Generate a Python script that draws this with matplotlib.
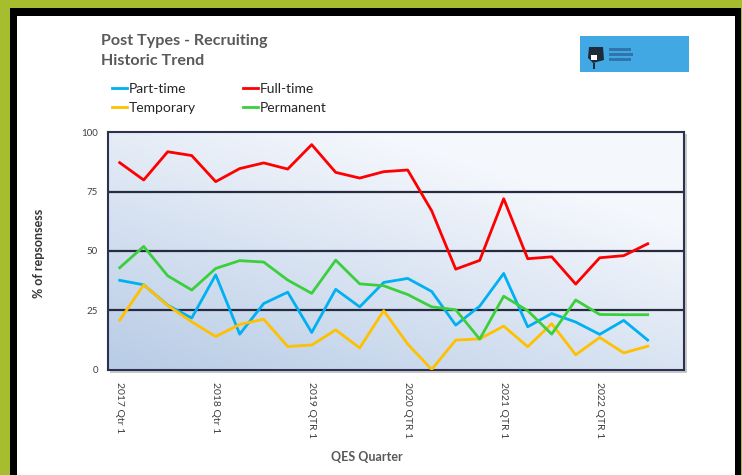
import numpy as np
import matplotlib.pyplot as plt
from matplotlib.patches import Rectangle, Polygon

plt.rcParams['font.family'] = ['Lato', 'DejaVu Sans']

# quarters 2017 Q1 .. 2022 Q4 (last one has no data yet)
quarters = [f'{y} Q{q}' for y in range(2017, 2023) for q in range(1, 5)]
tick_pos = [0, 4, 8, 12, 16, 20]
tick_labels = ['2017 Qtr 1', '2018 Qtr 1', '2019 QTR 1', '2020 QTR 1', '2021 QTR 1', '2022 QTR 1']

part_time = [37.6, 35.7, 27.1, 21.7, 39.9, 14.9, 27.8, 32.6, 15.6, 33.8, 26.4, 36.7,
             38.4, 32.9, 18.7, 26.7, 40.5, 18.0, 23.6, 20.0, 14.8, 20.7, 12.4]
full_time = [87.2, 79.9, 91.8, 90.2, 79.2, 84.7, 87.1, 84.5, 94.8, 83.1, 80.7, 83.4,
             84.1, 66.9, 42.3, 46.0, 72.0, 46.7, 47.5, 36.0, 47.1, 48.0, 53.0]
temporary = [20.8, 35.7, 27.0, 20.1, 13.9, 19.0, 21.2, 9.7, 10.3, 16.7, 9.1, 24.8,
             10.7, 0.0, 12.4, 12.9, 18.3, 9.6, 19.3, 6.2, 13.5, 7.0, 9.8]
permanent = [42.9, 51.9, 39.5, 33.5, 42.6, 45.9, 45.3, 37.7, 32.1, 46.1, 36.1, 35.3,
             31.6, 26.4, 25.2, 12.8, 30.9, 24.8, 14.9, 29.3, 23.2, 23.1, 23.1]

W, H = 742, 475
fig = plt.figure(figsize=(W / 100, H / 100), dpi=100)
fig.patch.set_facecolor('#a6bd2e')

# black frame + white panel (pixel coords -> figure fraction)
def px_rect(x0, y0, x1, y1, z, **kw):
    fig.patches.append(Rectangle((x0 / W, 1 - y1 / H), (x1 - x0) / W, (y1 - y0) / H,
                                 transform=fig.transFigure, figure=fig, zorder=z, **kw))

px_rect(10, 8, 741, 476, -3, facecolor='black', edgecolor='none')
px_rect(17, 16, 735, 476, -2, facecolor='white', edgecolor='none')
# shadow behind the plot area
px_rect(110, 134, 687, 373, -1, facecolor='#c8c8cc', edgecolor='none')

# plot area
ax = fig.add_axes([107.7 / W, 1 - 369.5 / H, 576 / W, 237.2 / H])

# gradient background: bluish bottom-left, nearly white top-right
gx, gy = np.meshgrid(np.linspace(0, 1, 200), np.linspace(0, 1, 100))
t = np.clip(0.55 * gx + 0.75 * gy, 0, 1)[::-1]
c0 = np.array([0.72, 0.80, 0.90])
c1 = np.array([0.96, 0.97, 0.99])
grad = c0[None, None, :] * (1 - t[..., None]) + c1[None, None, :] * t[..., None]
ax.imshow(grad, extent=[-0.5, 23.5, 0, 100], aspect='auto', zorder=0)

x = np.arange(len(part_time))
ax.plot(x, part_time, color='#00b0f0', lw=2, label='Part-time', zorder=3)
ax.plot(x, full_time, color='#ff0000', lw=2, label='Full-time', zorder=3)
ax.plot(x, temporary, color='#ffc000', lw=2, label='Temporary', zorder=3)
ax.plot(x, permanent, color='#3ccf3c', lw=2, label='Permanent', zorder=3)

ax.set_xlim(-0.5, len(quarters) - 0.5)
ax.set_ylim(0, 100)
for yv in [25, 50, 75]:
    ax.axhline(yv, color='#262b40', lw=1.6, zorder=2)
for s in ax.spines.values():
    s.set_color('#2c3150')
    s.set_linewidth(1.5)

ax.set_yticks([0, 25, 50, 75, 100])
ax.set_yticklabels(['0', '25', '50', '75', '100'], fontsize=7, color='#404040')
ax.set_xticks(tick_pos)
ax.set_xticklabels(tick_labels, rotation=270, fontsize=7.5, color='#404040', va='top', ha='center')
ax.tick_params(axis='x', length=0, pad=9)
ax.tick_params(axis='y', length=0, pad=7)

ax.set_ylabel('% of repsonsess', fontsize=9, fontweight='bold', color='#333333')
ax.yaxis.set_label_coords(-0.108, 0.49)
fig.text(367 / W, 1 - 457 / H, 'QES Quarter', fontsize=9, fontweight='bold', color='#595959',
         ha='center', va='center')

# title
fig.text(101 / W, 1 - 41 / H, 'Post Types - Recruiting', fontsize=11.6, fontweight='bold',
         color='#595959', va='center')
fig.text(101 / W, 1 - 61 / H, 'Historic Trend', fontsize=11.6, fontweight='bold',
         color='#595959', va='center')

# legend
handles, labels = ax.get_legend_handles_labels()
order = [0, 2, 1, 3]
leg = fig.legend([handles[i] for i in order], [labels[i] for i in order], ncol=2,
                 loc='upper left', bbox_to_anchor=(112 / W, 1 - 83 / H), frameon=False,
                 fontsize=10, handlelength=1.1, handletextpad=0.1, columnspacing=3.4,
                 labelspacing=0.5, borderaxespad=0, borderpad=0)
for txt in leg.get_texts():
    txt.set_color('#262626')

# logo (blue block)
lg = fig.add_axes([580 / W, 1 - 72 / H, 109 / W, 36 / H])
lg.set_xlim(0, 109)
lg.set_ylim(36, 0)
lg.set_facecolor('#41a8e3')
for s in lg.spines.values():
    s.set_visible(False)
lg.set_xticks([])
lg.set_yticks([])
lg.add_patch(Polygon([[9, 11], [23, 11], [24, 24], [13, 27], [8, 22]], closed=True,
                     facecolor='#1d2a3a', edgecolor='none'))
lg.add_patch(Rectangle((11, 19), 6, 5, facecolor='white', edgecolor='none'))
lg.add_patch(Rectangle((13, 27), 2, 6, facecolor='#1d2a3a', edgecolor='none'))
for yy, ww in [(12, 22), (17, 24), (22, 22)]:
    lg.add_patch(Rectangle((29, yy), ww, 2.5, facecolor='#2a5f97', edgecolor='none', alpha=0.7))

fig.savefig('out.png', dpi=100, facecolor=fig.get_facecolor())
